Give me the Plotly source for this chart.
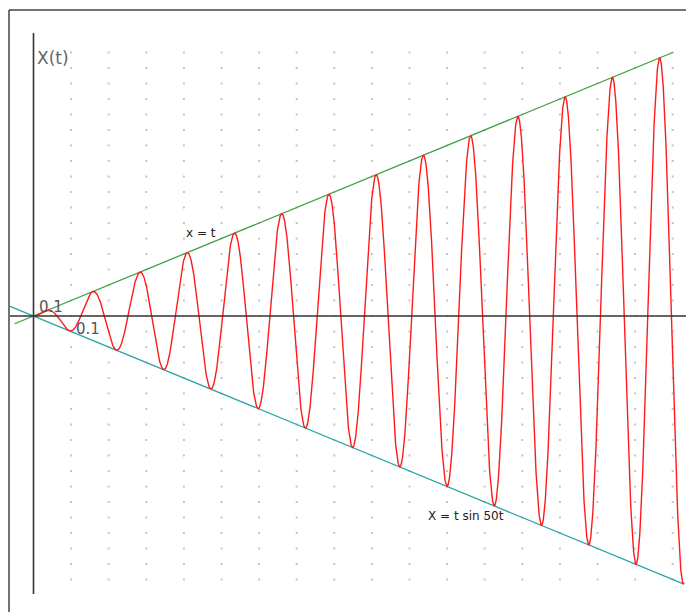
import numpy as np
import plotly.graph_objects as go

# curve x(t) = t sin(OMEGA t), drawn between its two envelopes
OMEGA = 50
T_RANGE = [0.0, 1.73]
N_SAMPLES = 4000

# envelope lines (end points)
upper_t = [-0.05, 1.70]
upper_x = [-0.05, 1.70]
lower_t = [-0.0625, 1.73]
lower_x = [0.0625, -1.73]

# tick labels
tick_labels = ["0.1", "0.1"]
tick_pos = [(0.108, -0.084), (0.010, 0.058)]

# curve labels
curve_labels = ["x = t", "X = t sin 50t"]
curve_label_pos = [(0.40, 0.535), (1.045, -1.29)]

GRID_STEP = 0.1

# pixel geometry of the original window (body margin is removed below)
W, H = 686, 612
ORIGIN_PX = (33.5, 316)
PX_PER_T = 376
PX_PER_X = 155


def px_to_data(px, py):
    return (px - ORIGIN_PX[0]) / PX_PER_T, (ORIGIN_PX[1] - py) / PX_PER_X


t = np.linspace(T_RANGE[0], T_RANGE[1], N_SAMPLES)
x = t * np.sin(OMEGA * t)

x_range = [-ORIGIN_PX[0] / PX_PER_T, (W - ORIGIN_PX[0]) / PX_PER_T]
y_range = [-(H - ORIGIN_PX[1]) / PX_PER_X, ORIGIN_PX[1] / PX_PER_X]

fig = go.Figure()

# dotted background grid
gx = np.arange(1, 18) * GRID_STEP
gy = np.arange(-17, 18) * GRID_STEP
GX, GY = np.meshgrid(gx, gy)
fig.add_trace(go.Scatter(
    x=GX.ravel(), y=GY.ravel(), mode="markers",
    marker=dict(symbol="square", size=2, color="#c4c4c4", line_width=0),
    hoverinfo="skip"))

fig.add_trace(go.Scatter(x=upper_t, y=upper_x, mode="lines",
                         line=dict(color="#3f9f3f", width=1.3)))
fig.add_trace(go.Scatter(x=lower_t, y=lower_x, mode="lines",
                         line=dict(color="#2aa5a5", width=1.3)))
fig.add_trace(go.Scatter(x=t, y=x, mode="lines",
                         line=dict(color="#ff1a1a", width=1.4)))

# axes
x_left, _ = px_to_data(10, 0)
_, y_top = px_to_data(0, 33)
_, y_bot = px_to_data(0, 594)
fig.add_shape(type="line", x0=x_left, x1=x_range[1] + 0.05,
              y0=0, y1=0, line=dict(color="#333333", width=1.6))
fig.add_shape(type="line", x0=0, x1=0, y0=y_bot, y1=y_top,
              line=dict(color="#333333", width=1.6))

# window frame (left and top edges)
fx = 9 / W
fy = 1 - 10 / H
fig.add_shape(type="line", xref="paper", yref="paper",
              x0=fx, x1=fx, y0=-0.1, y1=fy,
              line=dict(color="#444444", width=1.5))
fig.add_shape(type="line", xref="paper", yref="paper",
              x0=fx, x1=1.1, y0=fy, y1=fy,
              line=dict(color="#444444", width=1.5))

for txt, (px, py) in zip(tick_labels, tick_pos):
    fig.add_annotation(x=px, y=py, text=txt, showarrow=False,
                       xanchor="left", yanchor="middle",
                       font=dict(family="DejaVu Sans", size=15, color="#555555"))

for txt, (px, py) in zip(curve_labels, curve_label_pos):
    fig.add_annotation(x=px, y=py, text=txt, showarrow=False,
                       xanchor="left", yanchor="middle",
                       font=dict(family="DejaVu Sans", size=12, color="#222222"))

fig.add_annotation(xref="paper", yref="paper", x=35 / W, y=1 - 58.5 / H,
                   text="X(t)", showarrow=False, xanchor="left", yanchor="middle",
                   font=dict(family="DejaVu Sans", size=17, color="#666666"))

fig.update_layout(
    width=W, height=H, margin=dict(l=0, r=0, t=0, b=0),
    paper_bgcolor="white", plot_bgcolor="white", showlegend=False,
    hovermode=False,
    xaxis=dict(range=x_range, visible=False, fixedrange=True),
    yaxis=dict(range=y_range, visible=False, fixedrange=True),
)

fig.write_html(
    "out.html",
    config={"displayModeBar": False},
    post_script="document.body.style.margin='0';document.body.style.overflow='hidden';",
)
